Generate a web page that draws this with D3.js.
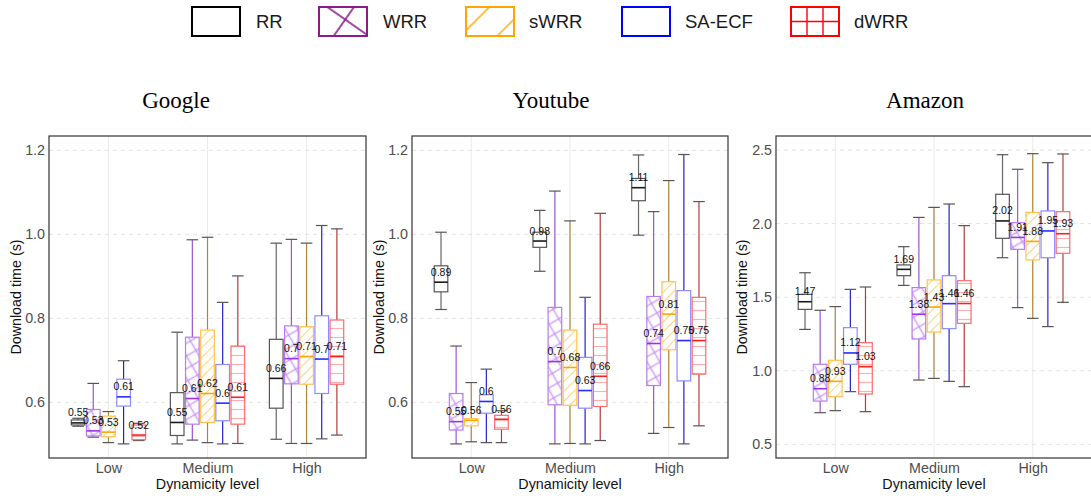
<!DOCTYPE html>
<html><head><meta charset="utf-8">
<script src="https://cdn.jsdelivr.net/npm/d3@7"></script>
<style>body{margin:0;background:#fff}svg{display:block}</style>
</head><body>
<script>
const methods = ["RR","WRR","sWRR","SA-ECF","dWRR"];
const levels = ["Low","Medium","High"];
const sites = ["Google","Youtube","Amazon"];
// [lower whisker, Q1, median, Q3, upper whisker] per level, per method
const googleStats = [
 [[0.543,0.546,0.551,0.558,0.562],[0.517,0.520,0.532,0.583,0.645],[0.504,0.518,0.529,0.567,0.578],[0.501,0.591,0.613,0.655,0.699],[0.509,0.511,0.522,0.546,0.550]],
 [[0.501,0.521,0.552,0.623,0.767],[0.510,0.548,0.609,0.755,0.987],[0.504,0.552,0.621,0.772,0.993],[0.501,0.556,0.598,0.690,0.838],[0.502,0.548,0.612,0.734,0.901]],
 [[0.512,0.586,0.657,0.750,0.979],[0.502,0.644,0.704,0.782,0.988],[0.502,0.643,0.709,0.780,0.979],[0.513,0.621,0.703,0.806,1.021],[0.522,0.643,0.709,0.796,1.013]]
];
const youtubeStats = [
 [[0.821,0.863,0.886,0.925,1.005],[0.501,0.534,0.554,0.621,0.734],[0.506,0.544,0.557,0.561,0.647],[0.504,0.574,0.602,0.618,0.679],[0.504,0.536,0.559,0.569,0.580]],
 [[0.912,0.969,0.984,1.005,1.057],[0.501,0.594,0.697,0.826,1.103],[0.502,0.593,0.683,0.772,1.032],[0.501,0.586,0.628,0.707,0.850],[0.509,0.590,0.662,0.786,1.050]],
 [[0.998,1.080,1.111,1.133,1.189],[0.526,0.640,0.740,0.852,1.054],[0.540,0.725,0.810,0.887,1.128],[0.501,0.651,0.747,0.866,1.190],[0.544,0.667,0.747,0.850,1.078]]
];
const amazonStats = [
 [[1.281,1.417,1.469,1.519,1.666],[0.715,0.794,0.878,1.044,1.411],[0.729,0.824,0.928,1.071,1.436],[0.858,1.044,1.121,1.293,1.553],[0.722,0.842,1.028,1.191,1.569]],
 [[1.580,1.646,1.689,1.719,1.843],[0.937,1.216,1.384,1.565,2.042],[0.948,1.263,1.433,1.617,2.110],[0.928,1.286,1.456,1.646,2.133],[0.892,1.322,1.457,1.612,1.986]],
 [[1.768,1.900,2.018,2.199,2.468],[1.429,1.825,1.906,2.006,2.369],[1.356,1.753,1.879,2.076,2.475],[1.300,1.768,1.950,2.086,2.414],[1.465,1.798,1.931,2.081,2.473]]
];
const googleTicks = [0.6,0.8,1.0,1.2];
const youtubeTicks = [0.6,0.8,1.0,1.2];
const amazonTicks = [0.5,1.0,1.5,2.0,2.5];

const W = 1091, H = 498;
const svg = d3.select("body").append("svg").attr("width",W).attr("height",H);
const defs = svg.append("defs");

const boxStroke = {"RR":"#555555","WRR":"#b77cf0","sWRR":"#ffc24f","SA-ECF":"#8c8cff","dWRR":"#ff6a6a"};
const medStroke = {"RR":"#1a1a1a","WRR":"#9a33f0","sWRR":"#ffa500","SA-ECF":"#2a2aff","dWRR":"#ff1f1f"};
const whiskStroke = {"RR":"#666666","WRR":"#9a55d6","sWRR":"#b0853a","SA-ECF":"#2424c8","dWRR":"#b33c3c"};
const legendColor = {"RR":"#000000","WRR":"#8b1a8b","sWRR":"#ffa500","SA-ECF":"#0000ff","dWRR":"#ff0000"};

function linePattern(id, size, angle, color, width, opacity, cross){
  const p = defs.append("pattern").attr("id",id).attr("patternUnits","userSpaceOnUse")
    .attr("width",size).attr("height",size).attr("patternTransform",`rotate(${angle})`);
  p.append("line").attr("x1",0).attr("y1",size/2).attr("x2",size).attr("y2",size/2)
    .attr("stroke",color).attr("stroke-width",width).attr("stroke-opacity",opacity);
  if(cross) p.append("line").attr("x1",size/2).attr("y1",0).attr("x2",size/2).attr("y2",size)
    .attr("stroke",color).attr("stroke-width",width).attr("stroke-opacity",opacity);
}
linePattern("pWRR", 11, -30, "#c28af5", 1.6, 0.75, true);
linePattern("pSWRR", 7, -45, "#ffc75a", 1, 0.8, false);
linePattern("pDWRR", 9, 0, "#ff8a8a", 1.1, 0.7, false);
linePattern("lWRR", 28, -55, "#8b1a8b", 1.6, 1, true);
linePattern("lSWRR", 26, -45, "#ffa500", 1.4, 1, false);
const patFill = {"RR":null,"WRR":"url(#pWRR)","sWRR":"url(#pSWRR)","SA-ECF":null,"dWRR":"url(#pDWRR)"};

const panels = [
  {title:sites[0], stats:googleStats, ticks:googleTicks, left:49, right:366, domain:[0.4674,1.2341], titleX:176, ylabX:16},
  {title:sites[1], stats:youtubeStats, ticks:youtubeTicks, left:412, right:728, domain:[0.4674,1.2341], titleX:551, ylabX:379},
  {title:sites[2], stats:amazonStats, ticks:amazonTicks, left:776, right:1092, domain:[0.4072,2.5951], titleX:925, ylabX:742}
];
const plotTop = 136, plotBottom = 458;
const sans = "'Liberation Sans', Arial, Helvetica, sans-serif";

panels.forEach(P => {
  const g = svg.append("g");
  const x = d3.scalePoint().domain(levels).range([P.left,P.right]).padding(0.6);
  const inner = d3.scaleBand().domain(methods).range([-0.375*x.step(), 0.375*x.step()]).paddingInner(0.1);
  const y = d3.scaleLinear().domain(P.domain).range([plotBottom, plotTop]);

  g.selectAll(".vg").data(levels).join("line")
    .attr("x1",d=>x(d)).attr("x2",d=>x(d)).attr("y1",plotTop).attr("y2",plotBottom)
    .attr("stroke","#ebebeb").attr("stroke-width",1);
  g.selectAll(".hg").data(P.ticks).join("line")
    .attr("x1",P.left).attr("x2",P.right).attr("y1",d=>y(d)).attr("y2",d=>y(d))
    .attr("stroke","#e3e3e3").attr("stroke-width",1).attr("stroke-dasharray","4,4");

  const labels = [];
  levels.forEach((lv, li) => {
    methods.forEach((m, mi) => {
      const [lo,q1,med,q3,hi] = P.stats[li][mi];
      const cx = x(lv) + inner(m) + inner.bandwidth()/2;
      const bw = inner.bandwidth();
      const capW = bw*0.85;
      g.append("line").attr("x1",cx).attr("x2",cx).attr("y1",y(lo)).attr("y2",y(hi))
        .attr("stroke",whiskStroke[m]).attr("stroke-width",1.2);
      [lo,hi].forEach(v => g.append("line").attr("x1",cx-capW/2).attr("x2",cx+capW/2)
        .attr("y1",y(v)).attr("y2",y(v)).attr("stroke","#555").attr("stroke-width",1.2));
      g.append("rect").attr("x",cx-bw/2).attr("y",y(q3)).attr("width",bw).attr("height",y(q1)-y(q3))
        .attr("fill","#fff");
      if(patFill[m]) g.append("rect").attr("x",cx-bw/2).attr("y",y(q3)).attr("width",bw).attr("height",y(q1)-y(q3))
        .attr("fill",patFill[m]);
      g.append("rect").attr("x",cx-bw/2).attr("y",y(q3)).attr("width",bw).attr("height",y(q1)-y(q3))
        .attr("fill","none").attr("stroke",boxStroke[m]).attr("stroke-width",1.2);
      g.append("line").attr("x1",cx-bw/2).attr("x2",cx+bw/2).attr("y1",y(med)).attr("y2",y(med))
        .attr("stroke",medStroke[m]).attr("stroke-width",1.6);
      labels.push({x:cx, y:y(med), t:String(+med.toFixed(2))});
    });
  });
  g.selectAll(".lab").data(labels).join("text")
    .attr("x",d=>d.x).attr("y",d=>d.y-6.5).attr("text-anchor","middle")
    .attr("font-family",sans).attr("font-size",10.5).attr("fill","#111").text(d=>d.t);

  g.append("rect").attr("x",P.left).attr("y",plotTop).attr("width",P.right-P.left).attr("height",plotBottom-plotTop)
    .attr("fill","none").attr("stroke","#333").attr("stroke-width",1.2);

  const yAxis = d3.axisLeft(y).tickValues(P.ticks).tickFormat(d3.format(".1f")).tickSize(0).tickPadding(4);
  const ya = g.append("g").attr("transform",`translate(${P.left},0)`).call(yAxis);
  ya.select(".domain").remove();
  ya.selectAll("text").attr("font-family",sans).attr("font-size",14.3).attr("fill","#4d4d4d");
  const xAxis = d3.axisBottom(x).tickSize(0).tickPadding(5);
  const xa = g.append("g").attr("transform",`translate(0,${plotBottom})`).call(xAxis);
  xa.select(".domain").remove();
  xa.selectAll("text").attr("font-family",sans).attr("font-size",14.3).attr("fill","#4d4d4d");

  g.append("text").attr("x",(P.left+P.right)/2).attr("y",489).attr("text-anchor","middle")
    .attr("font-family",sans).attr("font-size",14.3).attr("fill","#111").text("Dynamicity level");
  g.append("text").attr("transform",`translate(${P.ylabX+5},${(plotTop+plotBottom)/2}) rotate(-90)`)
    .attr("text-anchor","middle").attr("font-family",sans).attr("font-size",14.3).attr("fill","#111")
    .text("Download time (s)");
  g.append("text").attr("x",P.titleX).attr("y",108).attr("text-anchor","middle")
    .attr("font-family","'Liberation Serif','Times New Roman',serif").attr("font-size",23).attr("fill","#000")
    .text(P.title);
});

const legX = [192, 319, 466, 622, 791];
const legTextX = [256, 383, 529, 685, 854];
const lg = svg.append("g");
methods.forEach((m,i) => {
  const kx = legX[i], ky = 7, kw = 48, kh = 29;
  const kg = lg.append("g");
  kg.append("rect").attr("x",kx).attr("y",ky).attr("width",kw).attr("height",kh).attr("fill","#fff");
  if(m==="WRR") kg.append("rect").attr("x",kx).attr("y",ky).attr("width",kw).attr("height",kh).attr("fill","url(#lWRR)");
  if(m==="sWRR") kg.append("rect").attr("x",kx).attr("y",ky).attr("width",kw).attr("height",kh).attr("fill","url(#lSWRR)");
  if(m==="dWRR"){
    [1/3,2/3].forEach(f => kg.append("line").attr("x1",kx+kw*f).attr("x2",kx+kw*f).attr("y1",ky).attr("y2",ky+kh)
      .attr("stroke",legendColor[m]).attr("stroke-width",1.4));
    kg.append("line").attr("x1",kx).attr("x2",kx+kw).attr("y1",ky+kh/2).attr("y2",ky+kh/2)
      .attr("stroke",legendColor[m]).attr("stroke-width",1.4);
  }
  kg.append("rect").attr("x",kx).attr("y",ky).attr("width",kw).attr("height",kh)
    .attr("fill","none").attr("stroke",legendColor[m]).attr("stroke-width",2);
  lg.append("text").attr("x",legTextX[i]).attr("y",27.5).attr("font-family",sans)
    .attr("font-size",18.5).attr("fill","#1a1a1a").text(m);
});
</script>
</body></html>
